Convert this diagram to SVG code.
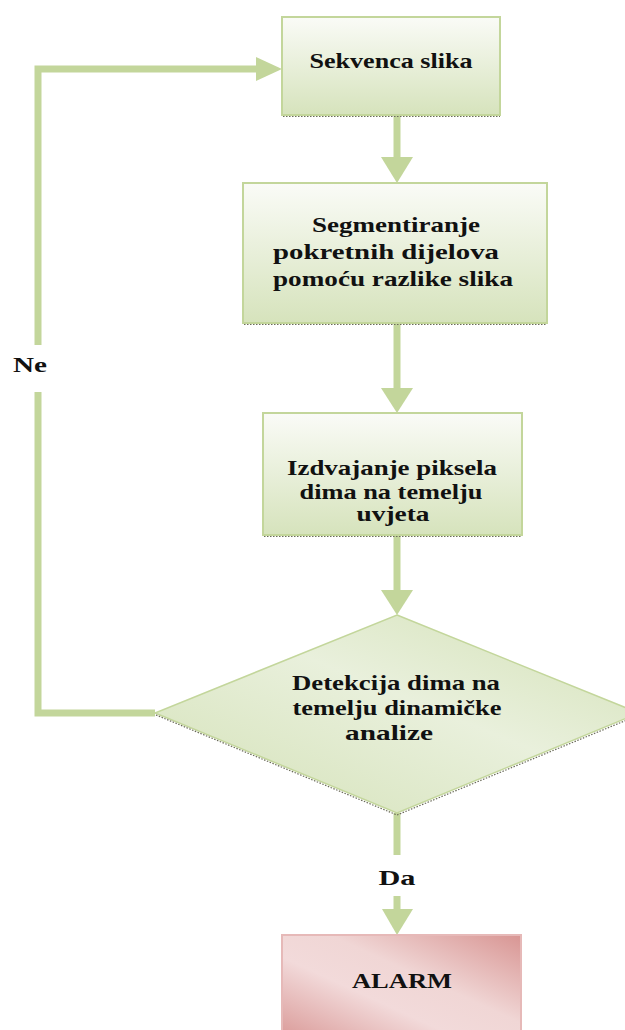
<svg xmlns="http://www.w3.org/2000/svg" width="625" height="1030" viewBox="0 0 625 1030">
  <defs>
    <linearGradient id="gBox" x1="0" y1="0" x2="0" y2="1">
      <stop offset="0" stop-color="#fafbf7"/>
      <stop offset="1" stop-color="#d6e3bc"/>
    </linearGradient>
    <linearGradient id="gDia" x1="0" y1="1" x2="1" y2="0">
      <stop offset="0" stop-color="#d3e1b6"/>
      <stop offset="0.55" stop-color="#e9f0dc"/>
      <stop offset="1" stop-color="#d3e1b6"/>
    </linearGradient>
    <linearGradient id="gAlarm" x1="0" y1="1" x2="1" y2="0">
      <stop offset="0" stop-color="#d89593"/>
      <stop offset="0.4" stop-color="#f2dada"/>
      <stop offset="0.6" stop-color="#f0d6d5"/>
      <stop offset="1" stop-color="#d89593"/>
    </linearGradient>
  </defs>
  <style>
    .box { fill: url(#gBox); stroke: #c3d69b; stroke-width: 2; }
    .shadow { fill: none; stroke: #6b6b5a; stroke-width: 1.2; stroke-dasharray: 1.5 1.5; }
    .conn { fill: none; stroke: #c3d69b; stroke-width: 7; }
    .head { fill: #c3d69b; }
    .t { font-family: "Liberation Serif", "DejaVu Serif", "Times New Roman", serif; font-weight: bold; font-size: 21px; fill: #111; text-anchor: middle; }
  </style>

  <g id="connectors">
    <path class="conn" d="M155,713 H38 V392"/>
    <path class="conn" d="M38,345 V69 H258"/>
    <polygon class="head" points="256,57 282,69 256,81"/>
    <path class="conn" d="M397,116 V158"/>
    <polygon class="head" points="381,157 413,157 397,183"/>
    <path class="conn" d="M397,324 V389"/>
    <polygon class="head" points="381,388 413,388 397,413"/>
    <path class="conn" d="M397,536 V591"/>
    <polygon class="head" points="381,590 413,590 397,615"/>
    <path class="conn" d="M397,813 V855"/>
    <path class="conn" d="M397,896 V911"/>
    <polygon class="head" points="382,909 413,909 397,935"/>
    <text class="t" x="30" y="372" textLength="34" lengthAdjust="spacingAndGlyphs">Ne</text>
    <text class="t" x="397" y="885" textLength="37" lengthAdjust="spacingAndGlyphs">Da</text>
  </g>

  <g id="n1">
    <rect class="box" x="282" y="17" width="218" height="98"/>
    <line class="shadow" x1="283" y1="116.5" x2="500" y2="116.5"/>
    <text class="t" x="391" y="68" textLength="163" lengthAdjust="spacingAndGlyphs">Sekvenca slika</text>
  </g>

  <g id="n2">
    <rect class="box" x="243" y="183" width="304" height="140"/>
    <line class="shadow" x1="244" y1="324.5" x2="547" y2="324.5"/>
    <text class="t" x="396" y="232" textLength="168" lengthAdjust="spacingAndGlyphs">Segmentiranje</text>
    <text class="t" x="386" y="259" textLength="226" lengthAdjust="spacingAndGlyphs">pokretnih dijelova</text>
    <text class="t" x="393" y="286" textLength="240" lengthAdjust="spacingAndGlyphs">pomoću razlike slika</text>
  </g>

  <g id="n3">
    <rect class="box" x="263" y="413" width="259" height="122"/>
    <line class="shadow" x1="264" y1="536.5" x2="522" y2="536.5"/>
    <text class="t" x="392" y="475" textLength="210" lengthAdjust="spacingAndGlyphs">Izdvajanje piksela</text>
    <text class="t" x="391" y="499" textLength="183" lengthAdjust="spacingAndGlyphs">dima na temelju</text>
    <text class="t" x="393" y="521" textLength="73" lengthAdjust="spacingAndGlyphs">uvjeta</text>
  </g>

  <g id="n4">
    <polygon points="397,615 639,713 397,813 155,713" fill="url(#gDia)" stroke="#c3d69b" stroke-width="1.5"/>
    <path class="shadow" d="M156,715 L397,815 L639,715"/>
    <text class="t" x="396" y="690" textLength="208" lengthAdjust="spacingAndGlyphs">Detekcija dima na</text>
    <text class="t" x="397" y="715" textLength="209" lengthAdjust="spacingAndGlyphs">temelju dinamičke</text>
    <text class="t" x="389" y="740" textLength="88" lengthAdjust="spacingAndGlyphs">analize</text>
  </g>

  <g id="n5">
    <rect x="282" y="935" width="239" height="110" fill="url(#gAlarm)" stroke="#e6b9b8" stroke-width="2"/>
    <text class="t" x="402" y="988" textLength="100" lengthAdjust="spacingAndGlyphs">ALARM</text>
  </g>
</svg>
